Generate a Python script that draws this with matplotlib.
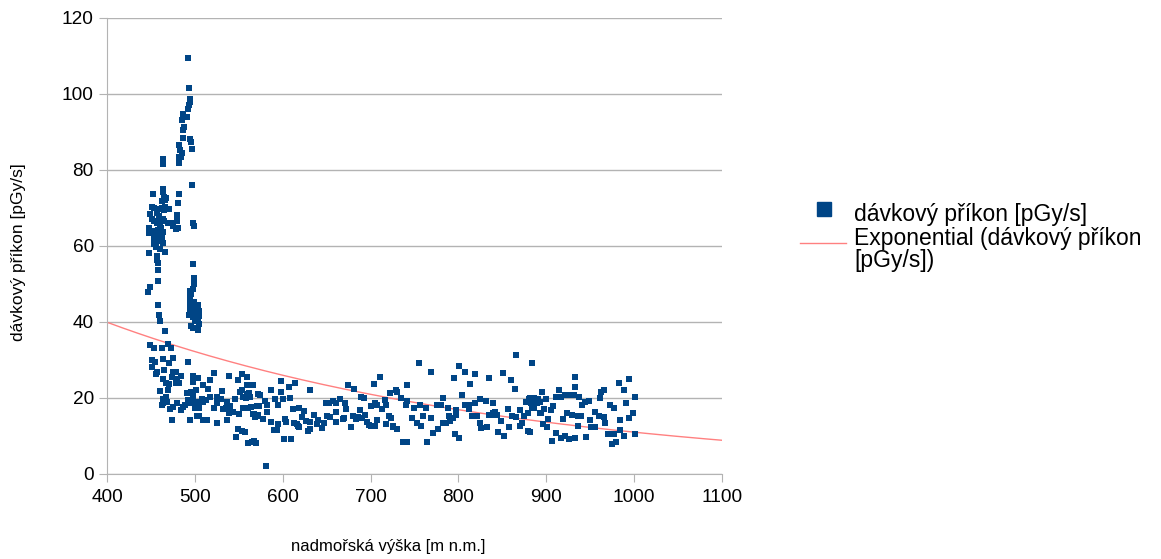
import numpy as np
import matplotlib
matplotlib.use('Agg')
import matplotlib.pyplot as plt
from matplotlib.lines import Line2D

plt.rcParams['font.family'] = ['Liberation Sans', 'DejaVu Sans']

# values, grouped by region (altitude [m n.m.], dose rate [pGy/s])
peak_x = [492, 493, 494, 494, 493, 492, 487, 491, 485, 488, 486, 486, 495, 496, 482, 497, 483, 485,
          482, 484, 464, 464, 482, 497, 452, 464, 464, 465, 466, 463, 482]
peak_y = [109.5, 101.5, 98.6, 97.8, 97.1, 96, 94.7, 93.9, 93.2, 91.4, 90.5, 88.5, 88.2, 87.3, 86.6, 85.5, 85.3, 84.6,
          83.5, 83.5, 83, 81.5, 81.8, 76, 73.8, 75, 74.2, 73, 72.2, 71.8, 73.7]

upper_x = [467, 481, 451.5, 453.5, 459, 461, 463, 466, 471, 449, 456.5, 459, 462.6, 464.5, 480, 451, 453.5,
           459, 457, 461, 464, 465, 480, 469, 472, 473.5, 497.5, 499, 460, 462, 475, 478.5, 481, 448, 455,
           458, 464, 448, 454, 457, 460, 463, 454, 458, 464, 454, 456, 460, 466, 448, 497.5, 457, 456.5,
           458, 457.5, 499.5, 499, 458, 448.5, 447, 498, 494, 496, 495, 499.5, 503.5, 501.5, 504.5, 494,
           494, 494.5, 499.5, 502, 504.5, 493, 498, 458, 459.5, 460.5, 500.5, 503.5, 504.5, 496, 498,
           503.5, 466.5]
upper_y = [72.6, 71.2, 70.2, 70.1, 69.7, 69.7, 69.9, 70.2, 69.7, 68.3, 68.6, 67.9, 66.8, 69.5, 68.2, 67.1, 66.6,
           66.6, 66, 67.1, 67.1, 66.6, 66.6, 66.1, 66.1, 66, 66, 65.3, 65.3, 64.8, 65.3, 64.5, 64.7, 64.8, 64,
           64.2, 63.8, 63.3, 63.1, 62.6, 63.2, 62.5, 61.7, 61.4, 60.9, 60.5, 59.8, 59.1, 58.5, 58.1, 55.3, 57.4, 56.3,
           55.6, 53.7, 51.5, 50, 50.9, 49.1, 48, 48.6, 48.2, 47.4, 46.5, 45.3, 44.5, 43.9, 43, 45.3,
           44, 43.2, 43, 42.4, 41.6, 41.8, 41.4, 44.5, 41.8, 40.3, 40.3, 40.3, 39.5, 38.9, 38.3,
           37.9, 37.6]

low1_x = [449, 453.5, 462.6, 469, 472.4, 451.5, 454.6, 463.3, 474.7, 470.5, 491.8, 450.8, 457.2, 455.4, 464.8,
          475.4, 478.5, 483.8, 521.7, 464, 473.6, 480, 498.2, 503.2, 539.2, 553.2, 559.6, 467, 470.9, 478.5,
          482.3, 497.5, 517, 548.7, 509.5, 514.5, 559, 566.4, 469.7, 460.3, 491.4, 495.2, 497.5, 500.9, 531.2,
          551.3, 553.9, 559, 561.6, 555.1, 558.2, 562.7, 572, 464, 467, 464, 467.8, 462.2, 475.4, 471.7, 479.3,
          483.8, 486.8, 488.7, 491.8, 494.4, 498.2, 500.1, 503.9, 507.7, 509.5, 512.6, 517.2, 524.8, 529.7,
          525.4, 521.7, 531.6, 535.4, 500.1, 505, 536.2, 540, 545.6, 541.8, 539, 543.7, 550.6, 555.1, 560.8,
          563.4, 566.4, 568.3, 572.1, 473.6, 494.4, 502.7, 505, 509.5, 513.3, 525.4, 536.9, 548.7, 553.2, 557,
          546.8, 560.8, 564.6, 567.2, 569.5]
low1_y = [33.9, 33.2, 33.2, 34.2, 33.2, 30, 29.6, 30.3, 30.6, 29.1, 29.6, 28.1, 26.9, 26.3, 27.4,
          26.9, 26.9, 25.9, 26.7, 25, 25.4, 24.9, 25.9, 25.2, 25.9, 26.3, 25.6, 24, 23.7, 23.9,
          23.9, 24.1, 24.7, 24.7, 23.4, 22.5, 23.4, 23.4, 22.1, 21.8, 21.2, 21.7, 21.1, 22.1, 21.8,
          21.7, 22.1, 21.1, 21.2, 20.3, 19.9, 20.3, 21.1, 19.7, 20.3, 18.6, 19, 18.2, 17.7, 17.1, 18.6,
          16.8, 17.7, 18.2, 19.5, 18.8, 19.9, 19, 19, 19.7, 19, 19.5, 20.3, 20.3, 19.7,
          18.6, 17.5, 17.1, 17.3, 17.5, 17.5, 19, 17.9, 19.7, 16.4, 16.1, 16.4, 15.7, 17.3, 17.3,
          17.6, 15.7, 15.3, 15.5, 14.2, 14.2, 15.3, 15.3, 14.2, 14.2, 13.5, 14.2, 11.8, 11.4, 11,
          9.8, 8.1, 8.3, 8.8, 8.1]

low2_x = [574, 598, 586.2, 607, 613.9, 598, 599.9, 608.2, 630.9, 673.8, 681.4, 703.8, 710.6, 728.8, 722, 689,
          692.7, 571, 573.3, 566.8, 568.7, 572.4, 577.1, 579.8, 582.4, 581.7, 591.1, 594.8, 586.2, 590, 593,
          594.8, 602.5, 603.7, 611.3, 613.1, 615.8, 618.8, 617.7, 618.8, 624.1, 621.5, 626.4, 601.4, 609, 629,
          630.9, 630.9, 635.8, 640.4, 638.6, 644.3, 646.9, 649.1, 652.9, 656.8, 660.5, 665.1, 670.8, 671.9, 650,
          653.7, 660.5, 668.1, 670, 660.5, 677.3, 679.6, 683.4, 686, 688, 693.6, 689.8, 695.5, 698.2, 700.8,
          704.6, 707.7, 700.8, 704.6, 706.9, 713.3, 717.1, 716, 721, 722.9, 717.8, 725, 729.6, 580.9]
low2_y = [20.8, 24.5, 22.1, 23, 24, 21.5, 19.7, 20.1, 22.1, 23.4, 22.5, 23.7, 25.6, 22.1, 21.2, 20.3,
          19.9, 17.9, 17.9, 15.8, 14.9, 15.3, 14.4, 19.3, 18.2, 16.4, 19.7, 18.2, 13.8, 11.6, 11.6,
          13.2, 14.4, 13.8, 17, 13.5, 13.2, 12.3, 12.7, 17.5, 16.7, 14.9, 14, 9.1, 9.1, 11.3,
          11.8, 13.6, 15.5, 14.2, 13.1, 12, 13.5, 18.8, 18.8, 19.2, 18.8, 19.7, 18.6, 17, 15.3,
          14.9, 13.8, 14.4, 14.7, 16.4, 12.3, 15.3, 14.4, 14.9, 16.8, 15.5, 14.7, 13.8, 12.9, 12.7,
          12.7, 14.2, 17.9, 18.8, 18.2, 17, 18.2, 19.5, 15.3, 14.7, 13.2, 12.7, 11.8, 2.1]

low3_x = [729.6, 740.9, 755, 768.3, 735.2, 740.2, 742, 749.3, 756.1, 763, 725.7, 730.3, 747.3, 753, 757.2,
          759.2, 736.4, 742, 763.7, 768.6, 770.5, 776.2, 775.1, 779.6, 781.9, 782.6, 785.7, 789.4, 793.3, 790.2,
          788.3, 797, 797.8, 794.8, 800.9, 807.4, 813.1, 803.5, 795.9, 800.9, 807.4, 811.9, 811.9, 818.8, 824.4,
          831.2, 839.5, 837.7, 841.4, 815.6, 821.3, 825.1, 826.2, 832.6, 819.2, 834.4, 834.8, 839.5, 844, 849,
          845.2, 851.7, 850.4, 865.6, 859.9, 864.8, 883.4, 856.4, 861, 865.5, 869.7, 874.2, 879.1, 857.2, 870.5,
          872.4, 879.1, 876.8, 880.6, 885.6, 890.2, 882.5, 885.5, 888.9, 892.7, 893.8]
low3_y = [21.7, 23.4, 29.1, 26.9, 19.9, 18.2, 19.3, 17.3, 18.2, 17.5, 12.4, 11.8, 14.7, 13.3, 12.6,
          15.3, 8.3, 8.3, 8.3, 14.7, 10.9, 11.8, 18.2, 18.2, 19.9, 13.5, 13.5, 15.3, 14.7, 14,
          17.5, 16.8, 15.5, 25.2, 28.5, 26.9, 23.7, 20.8, 10.5, 9.4, 18.2, 18.2, 17.1, 18.6, 19.7,
          19.3, 18.6, 15.5, 16.4, 15.3, 15.3, 13.3, 12, 12.3, 26.3, 25.2, 15.5, 16, 15.5, 13.9,
          11, 10.1, 26.7, 31.3, 24.7, 22.5, 29.1, 17, 15.3, 14.9, 16.8, 15.3, 16, 12.3, 12.7,
          13.5, 11.3, 19, 19.7, 19.9, 19.5, 18.6, 17.5, 18.8, 19, 16]

low4_x = [894.6, 881.2, 885, 888, 890.6, 899.4, 883.2, 910.8, 916.2, 921.8, 927.9, 931.7, 937, 914.6, 932.4,
          932.4, 892.7, 897.6, 902.5, 907.1, 905.2, 896.4, 900.9, 881.2, 906.7, 911.3, 916.2, 921.6, 925.7, 932.2,
          919, 923.6, 929.6, 936.1, 939.9, 936.1, 941.1, 944.6, 948.6, 955.2, 960.1, 965.4, 966.6, 949.7, 950.8,
          955.9, 945.3, 960.9, 962.8, 965.4, 972.3, 977.2, 990.5, 983, 988.3, 994, 1000.8, 969.9, 977, 974.4,
          979.3, 983.9, 988.8, 1000.8, 983.9, 994.5, 999.1]
low4_y = [21.7, 19.9, 19.5, 19.2, 19.7, 19.7, 17.5, 20.3, 20.3, 20.8, 20.8, 20.8, 20.3, 22.1, 25.4,
          23, 16, 17.1, 14.4, 18, 16.8, 13.1, 12.3, 11.1, 8.7, 10.9, 9.4, 10.1, 9.1, 9.6,
          14.4, 16, 15.5, 15.3, 15.3, 12.6, 18.2, 18.9, 19.3, 16.4, 15.3, 14.9, 13.5, 14.2, 12.4,
          12.4, 9.8, 20.1, 21.7, 22.1, 18.2, 17.5, 18.6, 24, 22.1, 25, 20.3, 10.5, 10.5, 7.9,
          8.3, 11.6, 10, 10.5, 14.2, 14.7, 16]

altitude = np.array(peak_x + upper_x + low1_x + low2_x + low3_x + low4_x)
dose = np.array(peak_y + upper_y + low1_y + low2_y + low3_y + low4_y)

# exponential trend line, least squares on log(y) like the spreadsheet does
b, ln_a = np.polyfit(altitude, np.log(dose), 1)
trend_x = np.linspace(400, 1100, 200)
trend_y = np.exp(ln_a) * np.exp(b * trend_x)

blue = '#004586'
red = '#ff8080'
grey = '#b3b3b3'
W, H = 1161, 559

fig = plt.figure(figsize=(W / 100, H / 100), dpi=100)
ax = fig.add_axes([107 / W, 85 / H, 615 / W, 456 / H])

ax.scatter(altitude, dose, marker='s', s=16, color=blue, linewidths=0, zorder=3)
ax.plot(trend_x, trend_y, color=red, lw=1, zorder=2)

ax.set_xlim(400, 1100)
ax.set_ylim(0, 120)
ax.set_xticks(range(400, 1101, 100))
ax.set_yticks(range(0, 121, 20))
ax.yaxis.grid(True, color=grey, lw=1)
ax.set_axisbelow(True)
for s in ['top', 'right']:
    ax.spines[s].set_visible(False)
for s in ['left', 'bottom']:
    ax.spines[s].set_color(grey)
ax.tick_params(colors=grey, labelcolor='black', labelsize=13.7, length=6, direction='out')
ax.tick_params(axis='x', pad=5)

fig.text(388 / W, 1 - 546 / H, 'nadmořská výška [m n.m.]', ha='center', va='center', fontsize=12)
fig.text(19 / W, 1 - 252 / H, 'dávkový příkon [pGy/s]', ha='center', va='center',
         rotation=90, fontsize=12.5)

# legend drawn by hand so the trend handle sits next to the first line of its label
fig.add_artist(Line2D([824 / W], [1 - 209 / H], marker='s', markersize=10, color=blue, lw=0))
fig.text(854 / W, 1 - 221 / H, 'dávkový příkon [pGy/s]', fontsize=16.5, va='baseline')
fig.add_artist(Line2D([800 / W, 846 / W], [1 - 243 / H, 1 - 243 / H], color=red, lw=1))
fig.text(854 / W, 1 - 245 / H, 'Exponential (dávkový příkon', fontsize=16.5, va='baseline')
fig.text(854 / W, 1 - 267 / H, '[pGy/s])', fontsize=16.5, va='baseline')

fig.savefig('out.png', dpi=100)
